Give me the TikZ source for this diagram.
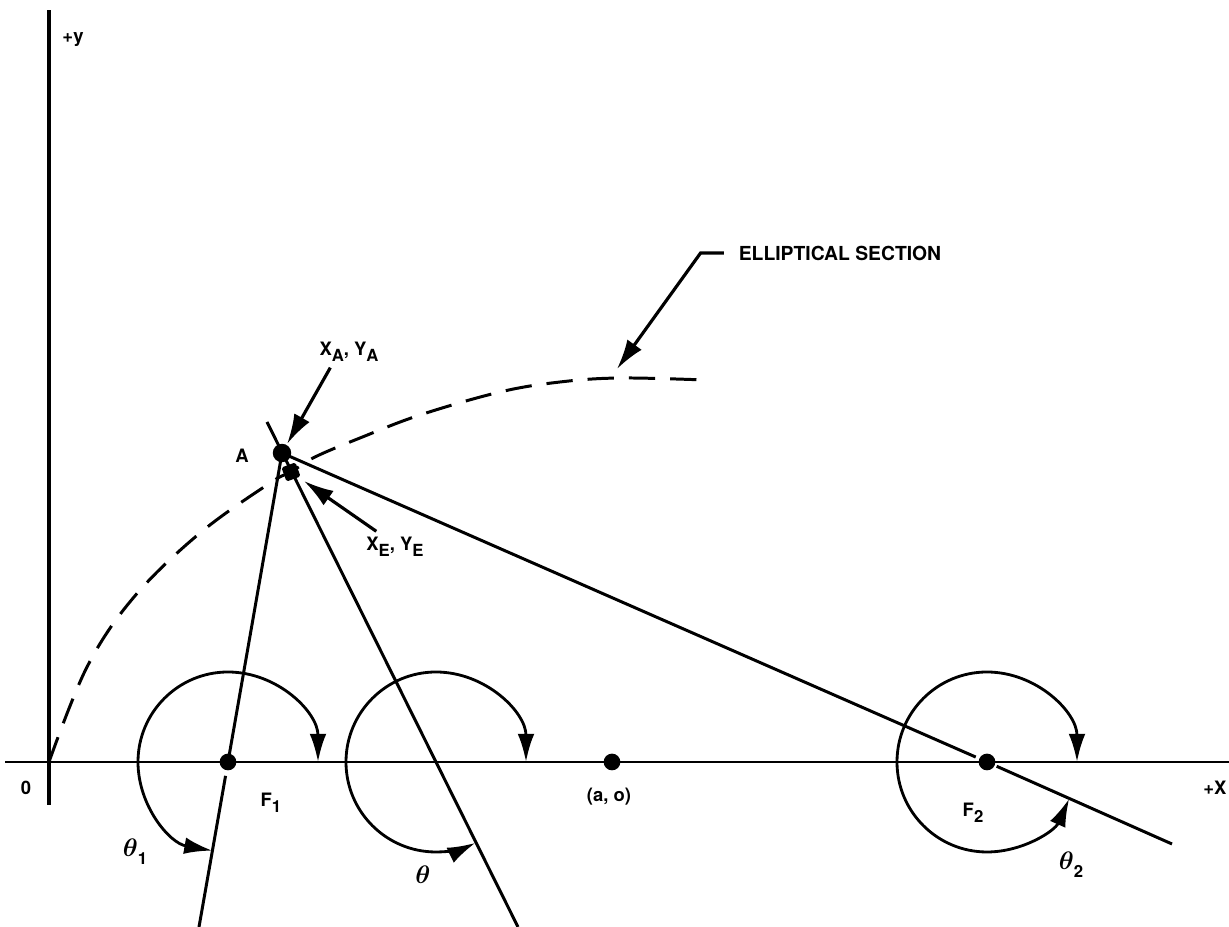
\documentclass[tikz,border=0pt]{standalone}
\usepackage{fontspec}
\setmainfont{TeX Gyre Heros}
\usetikzlibrary{arrows.meta}
\tikzset{
  lbl/.style={font=\bfseries\fontsize{10.5}{12}\selectfont},
  ang/.style={font=\boldmath\fontsize{15}{17}\selectfont},
  ray/.style={line width=1.7pt},
  leader/.style={line width=1.8pt, -{Latex[length=17pt,width=10pt]}},
  sweep/.style={line width=1.6pt, {Latex[length=16pt,width=9.5pt]}-{Latex[length=16pt,width=9.5pt]}},
  dot/.style={circle, fill, inner sep=0pt, minimum size=9.5pt},
  sqdot/.style={fill, inner sep=0pt, minimum size=8.5pt, rounded corners=1pt},
}
\newcommand{\lsub}[1]{\raisebox{-0.55ex}{\fontsize{9.5}{10}\selectfont #1}}

\begin{document}
\begin{tikzpicture}[scale=2]
  \useasboundingbox (-0.49,-1.65) rectangle (11.80,7.62);

  % Axes
  \coordinate (O) at (0,0);
  \coordinate (xL) at (-0.44,0);
  \coordinate (xR) at (11.80,0);
  \coordinate (yB) at (0,-0.43);
  \coordinate (yT) at (0,7.52);
  \draw[line width=0.9pt] (xL) -- (xR);
  \draw[line width=1.9pt] (yB) -- (yT);
  \node[lbl] (ylbl) at (0.24,7.22) {+y};
  \node[lbl] (olbl) at (-0.23,-0.26) {0};
  \node[lbl] (xlbl) at (11.66,-0.26) {+X};

  % Points on the axis
  \coordinate (F1) at (1.79,0);
  \coordinate (T) at (3.87,0);
  \coordinate (C) at (5.63,0);
  \coordinate (F2) at (9.38,0);
  \coordinate (A) at (2.33,3.09);
  \coordinate (E) at (2.42,2.90);

  % Elliptical section
  \draw[line width=1.7pt, dash pattern=on 15pt off 8.5pt]
    plot[smooth, tension=0.6] coordinates {(0,0) (0.38,0.95) (0.85,1.65) (1.51,2.29)
      (2.21,2.79) (E) (2.66,3.05) (3.11,3.24) (3.71,3.47) (4.51,3.70)
      (5.11,3.80) (5.71,3.84) (6.56,3.82)};

  % Rays through A
  \coordinate (F1end) at (1.50,-1.65);
  \coordinate (thTop) at (2.18,3.40);
  \coordinate (thBot) at (4.69,-1.65);
  \coordinate (F2end) at (11.23,-0.82);
  \draw[ray] (A) -- (F1);
  \draw[ray, shorten <=8pt] (F1) -- (F1end);
  \draw[ray] (thTop) -- (thBot);
  \draw[ray, shorten >=7pt] (A) -- (F2);
  \draw[ray, shorten <=6pt] (F2) -- (F2end);

  % Angles
  \draw[sweep] (F1) ++(0.9,0) arc[start angle=0, end angle=260, radius=0.9];
  \draw[sweep] (T) ++(0.9,0) arc[start angle=0, end angle=296, radius=0.9];
  \draw[sweep] (F2) ++(0.9,0) arc[start angle=0, end angle=336, radius=0.9];
  \node[ang] (t1lbl) at (0.86,-0.90) {$\theta$\lsub{\bfseries 1}};
  \node[ang] (tlbl) at (3.74,-1.13) {$\theta$};
  \node[ang] (t2lbl) at (10.22,-1.03) {$\theta$\lsub{\bfseries 2}};

  % Dots
  \node[sqdot, rotate=20] (Edot) at (E) {};
  \node[dot, minimum size=10.5pt] (Adot) at (A) {};
  \node[dot] (F1dot) at (F1) {};
  \node[dot] (Cdot) at (C) {};
  \node[dot] (F2dot) at (F2) {};

  % Labels
  \node[lbl] (albl) at (1.93,3.06) {A};
  \node[lbl] (f1lbl) at (2.22,-0.41) {F\lsub{1}};
  \node[lbl] (f2lbl) at (9.24,-0.51) {F\lsub{2}};
  \node[lbl] (clbl) at (5.60,-0.35) {(a, o)};
  \node[lbl] (xa) at (3.00,4.10) {X\lsub{A}, Y\lsub{A}};
  \node[lbl] (xe) at (3.46,2.15) {X\lsub{E}, Y\lsub{E}};
  \node[lbl, font=\bfseries\fontsize{11}{13}\selectfont] (ell) at (7.91,5.09) {ELLIPTICAL SECTION};

  % Leaders
  \coordinate (ellTip) at (5.68,3.93);
  \draw[leader, shorten >=6pt] (xa.220) -- (A);
  \draw[leader, shorten >=9pt] (xe.140) -- (E);
  \draw[leader, shorten <=5pt] (ell.west) -- ++(-0.32,0) -- (ellTip);
\end{tikzpicture}
\end{document}
